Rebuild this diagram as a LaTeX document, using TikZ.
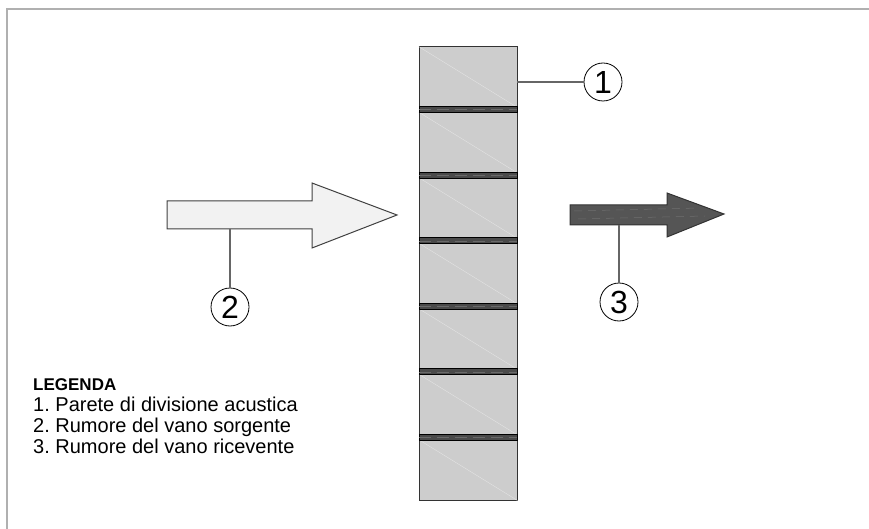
\documentclass[tikz,border=0pt]{standalone}
\usepackage{fontspec}
\setmainfont{Liberation Sans}
\usetikzlibrary{positioning}
\definecolor{blockgray}{HTML}{CDCDCD}
\definecolor{jointgray}{HTML}{4A4A4A}
\definecolor{framegray}{HTML}{B0B0B0}
\definecolor{leadgray}{HTML}{666666}
\definecolor{darkarrow}{HTML}{555555}
\definecolor{lightarrow}{HTML}{F2F2F2}
\begin{document}
\begin{tikzpicture}[x=1pt, y=-1pt,
    block/.style={draw=black!80, line width=1pt, fill=blockgray, minimum width=98pt, minimum height=60pt, inner sep=0pt},
    joint/.style={draw=black, line width=0.8pt, fill=jointgray, minimum width=98pt, minimum height=6pt, inner sep=0pt},
    tag/.style={draw=black, line width=0.8pt, fill=white, circle, minimum size=38pt, inner sep=0pt, font=\fontsize{32}{32}\selectfont},
    leader/.style={draw=leadgray, line width=1.2pt},
    legtext/.style={font=\fontsize{20}{21}\selectfont, inner sep=0pt}]
    \useasboundingbox (0,0) rectangle (869,529);
    % frame
    \draw[framegray, line width=2.5pt] (869,9) -- (7,9) -- (7,529);
    % wall
    \foreach \i in {0,...,6}{
        \node[block] (b\i) at (468, {47+30+65.5*\i}) {};
        \draw[white!45!blockgray, line width=0.4pt] (b\i.north west) -- (b\i.south east);
    }
    \foreach \i in {1,...,6}{
        \node[joint] (j\i) at (468, {47+60+2.75+65.5*(\i-1)}) {};
        \draw[gray!60!jointgray, line width=0.5pt, dash pattern=on 12pt off 6pt] (j\i.west) -- (j\i.east);
    }
    % arrows
    \draw[fill=lightarrow, draw=black!75, line width=1pt]
        (167,201) -- (312,201) -- (312,183) -- (397,215) -- (312,248) -- (312,229) -- (167,229) -- cycle;
    \draw[fill=darkarrow, draw=black!80, line width=1pt]
        (570,205) -- (667,205) -- (667,193) -- (724,214) -- (667,237) -- (667,225) -- (570,225) -- cycle;
    \draw[gray!60!darkarrow, line width=0.5pt, dash pattern=on 8pt off 6pt] (574,211) -- (700,208);
    \draw[gray!60!darkarrow, line width=0.5pt, dash pattern=on 8pt off 6pt] (578,219) -- (705,216);
    \coordinate (foot2) at (230,229);
    \coordinate (foot3) at (619,225);
    \coordinate (wallside) at (517,82);
    % tags
    \node[tag] (t1) at (603,82) {1};
    \node[tag] (t2) at (230,307) {2};
    \node[tag] (t3) at (619,302) {3};
    \draw[leader] (wallside) -- (t1);
    \draw[leader] (foot2) -- (t2);
    \draw[leader] (foot3) -- (t3);
    % legend
    \node[font=\fontsize{17}{18}\selectfont\bfseries, inner sep=0pt, anchor=base west] (legtitle) at (33,390) {LEGENDA};
    \node[legtext, below=21pt of legtitle.base west, anchor=base west] (leg1) {1.\ Parete di divisione acustica};
    \node[legtext, below=21pt of leg1.base west, anchor=base west] (leg2) {2.\ Rumore del vano sorgente};
    \node[legtext, below=21pt of leg2.base west, anchor=base west] (leg3) {3.\ Rumore del vano ricevente};
\end{tikzpicture}
\end{document}
